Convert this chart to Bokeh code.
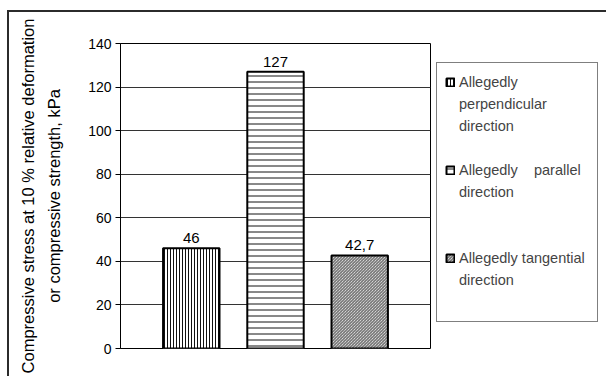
from bokeh.plotting import figure
from bokeh.models import FactorRange, FixedTicker, Legend, LegendItem, ColumnDataSource
from bokeh.embed import file_html
from bokeh.resources import INLINE
from bokeh.core.properties import value

# --- data -------------------------------------------------------------
categories = ["perpendicular", "parallel", "tangential"]
strength = [46, 127, 42.7]  # kPa
# each legend entry is written line by line; the first line carries the swatch
legend_lines = [
    ["Allegedly", "perpendicular", "direction", " "],
    ["Allegedly    parallel", "direction", " ", " "],
    ["Allegedly tangential", "direction", " "],
]
y_ticks = [0, 20, 40, 60, 80, 100, 120, 140]

# value labels use a decimal comma
value_labels = [f"{v:g}".replace(".", ",") for v in strength]

FONT = "Liberation Sans"

source = ColumnDataSource(data=dict(
    cat=categories,
    top=strength,
    label=value_labels,
    hatch=["vertical_line", "horizontal_line", "left_diagonal_line"],
    hscale=[3.0, 6.0, 3.0],
    hcolor=["#111111", "#111111", "#555555"],
))

p = figure(
    x_range=FactorRange(*categories, range_padding=0.227),
    y_range=(0, 140),
    frame_width=310, frame_height=305,
    output_backend="svg", toolbar_location=None,
    min_border_left=111, min_border_right=176,
    min_border_top=31, min_border_bottom=28,
)
p.styles = {
    "margin-left": "7px", "margin-top": "10px",
    "border-left": "2px solid #2b2b2b", "border-top": "2px solid #2b2b2b",
}

bars = p.vbar(
    x="cat", top="top", width=0.67, source=source,
    fill_color="white", line_color="black", line_width=2,
    hatch_pattern="hatch", hatch_scale="hscale", hatch_color="hcolor",
    hatch_weight=1,
)

value_text = p.text(
    x="cat", y="top", text="label", source=source,
    text_align="center", text_baseline="bottom", y_offset=-5,
    text_font=value(FONT), text_font_size="15px", text_color="black",
)

# frame and grid
p.outline_line_color = "black"
p.outline_line_width = 1
p.xgrid.visible = False
p.ygrid.grid_line_color = "#333333"
p.ygrid.grid_line_width = 1
p.xaxis.visible = False

ax = p.yaxis[0]
ax.ticker = FixedTicker(ticks=y_ticks)
ax.axis_line_color = "black"
ax.major_tick_line_color = "black"
ax.major_tick_out = 5
ax.major_tick_in = 0
ax.minor_tick_line_color = None
ax.major_label_text_font = FONT
ax.major_label_text_font_size = "14px"
ax.major_label_text_color = "black"
ax.major_label_standoff = 4
ax.axis_label = "Compressive stress at 10 % relative deformation\nor compressive strength, kPa"
ax.axis_label_text_font = FONT
ax.axis_label_text_font_style = "normal"
ax.axis_label_text_font_size = "16.5px"
ax.axis_label_text_color = "black"
ax.axis_label_text_line_height = 1.45
ax.axis_label_standoff = 22

# swatch on the first line of each entry; continuation lines ride on the
# text renderer, which draws no legend glyph
items = []
for i, lines in enumerate(legend_lines):
    for j, line in enumerate(lines):
        if j == 0:
            items.append(LegendItem(label=line, renderers=[bars], index=i))
        else:
            items.append(LegendItem(label=line, renderers=[value_text]))

legend = Legend(
    items=items,
    location=(6, 26),
    orientation="vertical",
    margin=0, padding=8, spacing=0,
    glyph_width=10, glyph_height=10, label_standoff=4,
    label_width=130, label_height=22,
    label_text_font=FONT, label_text_font_size="14.5px",
    border_line_color="black", border_line_width=1,
    background_fill_color="white", background_fill_alpha=1,
)
p.add_layout(legend, "right")

open("out.html", "w").write(file_html(p, INLINE))
